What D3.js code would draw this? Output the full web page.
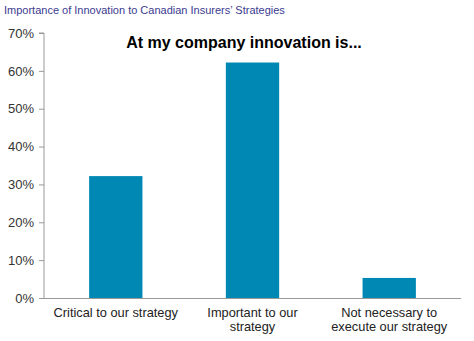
<!DOCTYPE html>
<html><head><meta charset="utf-8">
<script src="https://cdn.jsdelivr.net/npm/d3@7"></script>
<style>body{margin:0;background:#fff}svg{display:block}text{font-family:Arial,"Liberation Sans",sans-serif}</style>
</head><body>
<svg id="c" width="474" height="341"></svg>
<script>
const categories = [["Critical to our strategy"],["Important to our","strategy"],["Not necessary to","execute our strategy"]];
const values = [32.2, 62.2, 5.3];
const tickValues = [0,10,20,30,40,50,60,70];

const svg = d3.select("#c");
const x0 = 44, x1 = 461, y0 = 298, y1 = 33;
const x = d3.scaleBand().domain(d3.range(categories.length)).range([x0, x1]).paddingInner(0.61).paddingOuter(0.33);
const y = d3.scaleLinear().domain([0,70]).range([y0, y1]);

svg.append("text").attr("x",4).attr("y",14).attr("font-size",11).attr("fill","#3b3b8f").text("Importance of Innovation to Canadian Insurers’ Strategies");

svg.selectAll("rect.bar").data(values).enter().append("rect").attr("class","bar")
  .attr("x",(d,i)=>x(i)).attr("width",x.bandwidth())
  .attr("y",d=>y(d)).attr("height",d=>y0-y(d)).attr("fill","#0088B4");

const ya = d3.axisLeft(y).tickValues(tickValues).tickFormat(d=>d+"%").tickSize(5).tickPadding(5);
const g = svg.append("g").attr("transform",`translate(${x0},0)`).call(ya);
g.select(".domain").attr("stroke","#999").attr("d",`M-5,${y1}H0V${y0}`);
g.selectAll(".tick line").attr("stroke","#999");
g.selectAll(".tick text").attr("font-size",13).attr("fill","#333").attr("font-family","Arial,'Liberation Sans',sans-serif");

svg.append("line").attr("x1",x0).attr("x2",x1).attr("y1",y0+0.5).attr("y2",y0+0.5).attr("stroke","#999");

const lab = svg.selectAll("text.cat").data(categories).enter().append("text").attr("class","cat")
  .attr("x",(d,i)=>x(i)+x.bandwidth()/2).attr("y",317).attr("text-anchor","middle").attr("font-size",12.8).attr("fill","#222");
lab.selectAll("tspan").data(d=>d).enter().append("tspan").attr("x",function(){return this.parentNode.getAttribute("x");})
  .attr("dy",(d,i)=>i?14:0).text(d=>d);

svg.append("text").attr("x",244).attr("y",48).attr("text-anchor","middle").attr("font-size",16).attr("font-weight","bold").attr("fill","#000").text("At my company innovation is...");
</script>
</body></html>
